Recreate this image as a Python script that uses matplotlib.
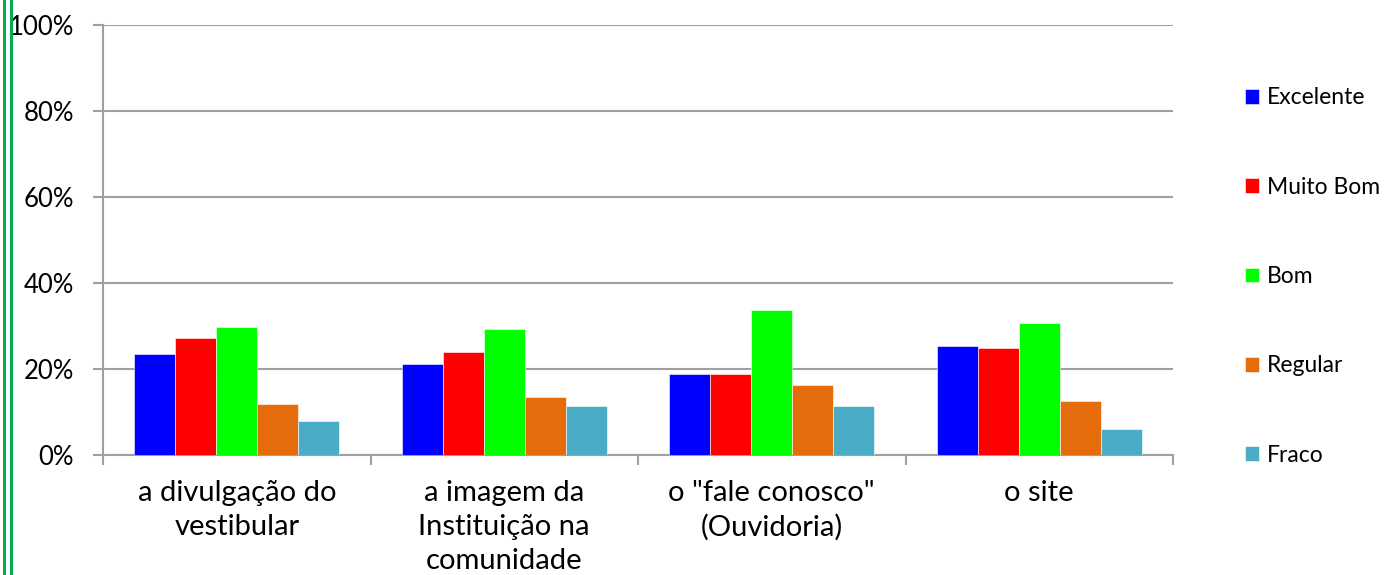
import numpy as np
import matplotlib.pyplot as plt
from matplotlib.lines import Line2D

plt.rcParams['font.family'] = ['Lato', 'DejaVu Sans']

# data
categories = ['a divulgação do\nvestibular', 'a imagem da\nInstituição na\ncomunidade',
              'o "fale conosco"\n(Ouvidoria)', 'o site']
series = ['Excelente', 'Muito Bom', 'Bom', 'Regular', 'Fraco']
excelente = [23.4, 21.2, 18.9, 25.4]
muito_bom = [27.1, 24.0, 18.9, 24.8]
bom = [29.8, 29.3, 33.8, 30.6]
regular = [11.9, 13.6, 16.3, 12.6]
fraco = [7.8, 11.4, 11.4, 6.0]
colors = ['#0000ff', '#ff0000', '#00ff00', '#e46c0a', '#4bacc6']

values = [excelente, muito_bom, bom, regular, fraco]

fig = plt.figure(figsize=(13.84, 5.75), dpi=100)
ax = fig.add_axes([103/1384, 1 - 455/575, (1173-103)/1384, (455-25)/575])

x = np.arange(len(categories))
w = 0.153
for i, (name, vals) in enumerate(zip(series, values)):
    ax.bar(x + (i - 2) * w, vals, w, color=colors[i], label=name, zorder=3,
           edgecolor='white', linewidth=0.4)

ax.set_xlim(-0.5, len(categories) - 0.5)
ax.set_ylim(0, 100)
ax.set_yticks(range(0, 101, 20))
ax.set_yticklabels([f'{v}%' for v in range(0, 101, 20)])
ax.yaxis.grid(True, color='#a0a0a0', linewidth=1.5, zorder=0)

# category boundary ticks
ax.set_xticks(np.arange(-0.5, len(categories), 1))
ax.set_xticklabels([])
ax.set_xticks(x, minor=True)
ax.set_xticklabels(categories, minor=True, fontsize=21, linespacing=1.38, va='top')
ax.tick_params(axis='x', which='minor', length=0, pad=18)
ax.tick_params(axis='x', which='major', length=7, width=1.5, color='#a0a0a0', direction='out')
ax.tick_params(axis='y', length=7, width=1.5, color='#a0a0a0', labelsize=18.5, pad=14)

for s in ['top', 'right']:
    ax.spines[s].set_visible(False)
for s in ['left', 'bottom']:
    ax.spines[s].set_color('#a0a0a0')
    ax.spines[s].set_linewidth(1.5)

fig.legend(loc='upper left', bbox_to_anchor=(1234/1384, 1 - 76/575), frameon=False,
           fontsize=16.5, handlelength=0.6, handleheight=0.6, handletextpad=0.35,
           labelspacing=2.98, borderpad=0)

# green double border on the left
for xp in [3.5, 10.5]:
    fig.add_artist(Line2D([xp/1384, xp/1384], [0, 1], transform=fig.transFigure,
                          color='#00b050', linewidth=2.2))

fig.savefig('out.png', dpi=100)
